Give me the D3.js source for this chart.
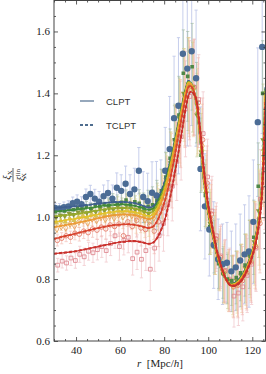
<!DOCTYPE html>
<html><head><meta charset="utf-8">
<script src="https://cdn.jsdelivr.net/npm/d3@7"></script>
<style>body{margin:0;background:#fff}svg{display:block}</style>
</head><body>
<svg id="c" width="266" height="374"></svg>
<script>
// ---------- data ----------
const xTicks = [40, 60, 80, 100, 120];
const yTicks = [0.6, 0.8, 1.0, 1.2, 1.4, 1.6];
const xMinor = [30,35,45,50,55,65,70,75,85,90,95,105,110,115,125];
const yMinor = [0.65,0.7,0.75,0.85,0.9,0.95,1.05,1.1,1.15,1.25,1.3,1.35,1.45,1.5,1.55,1.65];
const legendLabels = ["CLPT", "TCLPT"];

const rBins = [31,33,35,37,39,41,43,45,47,49,51,53,55,57,59,61,63,65,67,69,71,73,75,77,79,81,83,85,87,89,91,93,95,97,99,101,103,105,107,109,111,113,115,117,119,121,123,125];

const blueVals = [1.030,1.028,1.032,1.035,1.045,1.050,1.042,1.065,1.075,1.060,1.050,1.068,1.078,1.060,1.095,1.085,1.108,1.075,1.090,1.150,1.065,1.052,1.079,1.070,1.065,1.150,1.220,1.320,1.360,1.528,1.480,1.536,1.449,1.156,1.035,0.960,0.910,0.864,0.848,0.853,0.825,0.838,0.860,0.880,0.889,0.985,1.307,1.550];
const blueErr = [0.015,0.016,0.017,0.018,0.02,0.022,0.024,0.026,0.028,0.03,0.033,0.036,0.04,0.044,0.048,0.052,0.057,0.062,0.068,0.075,0.082,0.09,0.1,0.11,0.12,0.14,0.17,0.2,0.22,0.24,0.25,0.24,0.22,0.2,0.17,0.15,0.14,0.13,0.13,0.13,0.13,0.14,0.15,0.16,0.18,0.2,0.24,0.28];

const greenVals = [1.018,1.022,1.020,1.028,1.024,1.032,1.030,1.035,1.028,1.040,1.036,1.042,1.038,1.050,1.044,1.048,1.055,1.040,1.050,1.045,1.030,1.035,1.040,1.055,1.085,1.130,1.190,1.250,1.330,1.465,1.455,1.486,1.370,1.200,1.070,0.970,0.905,0.850,0.818,0.800,0.795,0.805,0.820,0.845,0.880,0.935,1.100,1.400];
const greenErr = [0.01,0.01,0.011,0.012,0.013,0.014,0.015,0.016,0.017,0.018,0.02,0.022,0.024,0.026,0.028,0.03,0.033,0.036,0.04,0.044,0.048,0.052,0.058,0.064,0.07,0.08,0.095,0.11,0.125,0.14,0.145,0.14,0.13,0.12,0.1,0.09,0.085,0.08,0.08,0.08,0.08,0.085,0.09,0.1,0.11,0.12,0.14,0.17];

const oliveVals = [1.000,1.006,1.004,1.012,1.008,1.016,1.020,1.014,1.024,1.018,1.028,1.022,1.030,1.026,1.035,1.028,1.038,1.030,1.025,1.030,1.018,1.012,1.025,1.040,1.075,1.120,1.175,1.250,1.320,1.400,1.430,1.420,1.330,1.210,1.075,0.980,0.910,0.855,0.815,0.795,0.785,0.795,0.812,0.835,0.870,0.920,1.020,1.250];
const oliveErr = [0.011,0.011,0.012,0.013,0.014,0.015,0.016,0.018,0.019,0.02,0.022,0.024,0.026,0.028,0.031,0.034,0.037,0.04,0.044,0.048,0.052,0.057,0.063,0.07,0.078,0.088,0.1,0.115,0.13,0.145,0.15,0.145,0.135,0.125,0.11,0.1,0.095,0.09,0.09,0.09,0.09,0.095,0.1,0.11,0.12,0.13,0.15,0.18];

const yellowVals = [0.982,0.988,0.985,0.995,0.990,1.000,1.005,0.998,1.010,1.004,1.014,1.008,1.018,1.012,1.022,1.016,1.025,1.018,1.012,1.020,1.004,0.998,1.012,1.030,1.065,1.110,1.170,1.240,1.310,1.395,1.425,1.415,1.340,1.220,1.085,0.985,0.915,0.860,0.818,0.795,0.780,0.790,0.808,0.830,0.865,0.915,1.000,1.220];
const yellowErr = [0.012,0.012,0.013,0.014,0.015,0.016,0.018,0.019,0.02,0.022,0.024,0.026,0.028,0.03,0.033,0.036,0.04,0.043,0.047,0.05,0.055,0.06,0.066,0.073,0.08,0.09,0.105,0.12,0.135,0.15,0.155,0.15,0.14,0.13,0.115,0.105,0.1,0.095,0.095,0.095,0.095,0.1,0.105,0.115,0.125,0.135,0.155,0.185];

const orangeVals = [0.962,0.970,0.966,0.978,0.972,0.985,0.990,0.982,0.995,0.990,1.000,0.994,1.004,0.998,1.008,1.002,1.012,1.006,0.998,1.004,0.992,0.986,0.998,1.015,1.050,1.100,1.160,1.235,1.305,1.385,1.420,1.415,1.350,1.230,1.095,0.995,0.920,0.862,0.820,0.795,0.778,0.785,0.802,0.825,0.860,0.910,0.990,1.200];
const orangeErr = [0.013,0.013,0.014,0.015,0.016,0.018,0.019,0.02,0.022,0.024,0.026,0.028,0.03,0.033,0.036,0.039,0.042,0.046,0.05,0.054,0.058,0.063,0.07,0.077,0.085,0.095,0.11,0.125,0.14,0.155,0.16,0.155,0.145,0.135,0.12,0.11,0.105,0.1,0.1,0.1,0.1,0.105,0.11,0.12,0.13,0.14,0.16,0.19];

const redVals = [0.925,0.932,0.940,0.935,0.948,0.945,0.955,0.950,0.962,0.958,0.968,0.962,0.975,0.970,0.978,0.940,0.985,0.970,0.990,0.965,0.960,0.975,0.955,0.985,1.030,1.090,1.140,1.230,1.300,1.380,1.410,1.420,1.370,1.250,1.110,1.010,0.930,0.870,0.825,0.795,0.775,0.780,0.795,0.820,0.855,0.905,0.980,1.180];
const redErr = [0.018,0.018,0.019,0.02,0.021,0.022,0.024,0.025,0.027,0.029,0.031,0.033,0.035,0.037,0.04,0.043,0.046,0.05,0.054,0.058,0.062,0.067,0.073,0.08,0.088,0.098,0.11,0.125,0.14,0.155,0.16,0.155,0.145,0.135,0.12,0.11,0.105,0.1,0.1,0.1,0.1,0.105,0.11,0.12,0.13,0.14,0.16,0.19];

const pinkVals = [0.845,0.858,0.852,0.868,0.860,0.880,0.872,0.890,0.885,0.895,0.905,0.892,0.915,0.940,0.905,0.925,0.935,0.866,0.887,0.864,0.892,0.832,0.900,0.940,0.980,1.040,1.100,1.180,1.260,1.350,1.390,1.420,1.380,1.270,1.130,1.020,0.940,0.875,0.828,0.800,0.745,0.755,0.775,0.812,0.848,0.900,1.058,1.150];
const pinkErr = [0.022,0.022,0.023,0.024,0.025,0.026,0.028,0.029,0.031,0.033,0.035,0.037,0.039,0.041,0.044,0.047,0.05,0.053,0.056,0.06,0.064,0.069,0.075,0.082,0.09,0.1,0.112,0.126,0.14,0.155,0.16,0.155,0.145,0.135,0.122,0.112,0.106,0.1,0.1,0.1,0.1,0.105,0.11,0.12,0.13,0.14,0.16,0.19];

// model curves
const rModel = [30,34,38,42,46,50,54,58,62,66,70,73,75,77,80,82,84,86,88,90,91,92,94,96,98,100,102,104,106,108,110,112,114,116,118,120,122,124,125,126];
const blueModel = [1.030,1.032,1.034,1.037,1.040,1.044,1.047,1.049,1.049,1.046,1.038,1.031,1.035,1.055,1.110,1.160,1.220,1.290,1.360,1.420,1.440,1.435,1.390,1.280,1.120,1.010,0.940,0.875,0.830,0.800,0.785,0.788,0.800,0.820,0.850,0.890,0.955,1.070,1.200,1.420];
const greenModel = [1.018,1.020,1.023,1.026,1.030,1.034,1.038,1.040,1.041,1.038,1.030,1.024,1.028,1.048,1.100,1.152,1.214,1.285,1.356,1.418,1.438,1.434,1.390,1.282,1.124,1.014,0.943,0.877,0.831,0.800,0.784,0.786,0.798,0.818,0.848,0.888,0.952,1.066,1.195,1.415];
const oliveModel = [1.002,1.005,1.008,1.012,1.017,1.022,1.026,1.029,1.030,1.028,1.020,1.014,1.019,1.040,1.092,1.145,1.208,1.280,1.352,1.415,1.436,1.433,1.391,1.285,1.128,1.018,0.946,0.879,0.832,0.800,0.783,0.785,0.796,0.816,0.846,0.886,0.949,1.062,1.190,1.410];
const yellowModel = [0.985,0.989,0.993,0.998,1.003,1.009,1.014,1.018,1.019,1.017,1.010,1.004,1.009,1.030,1.083,1.137,1.201,1.274,1.347,1.412,1.434,1.432,1.392,1.288,1.132,1.022,0.949,0.881,0.833,0.800,0.782,0.784,0.794,0.814,0.844,0.884,0.946,1.058,1.185,1.405];
const orangeModel = [0.968,0.973,0.978,0.984,0.990,0.997,1.003,1.007,1.009,1.007,1.000,0.994,0.999,1.020,1.074,1.129,1.194,1.268,1.342,1.408,1.431,1.430,1.393,1.291,1.136,1.026,0.952,0.883,0.834,0.800,0.781,0.782,0.792,0.812,0.842,0.881,0.942,1.053,1.178,1.398];
const redModel = [0.930,0.937,0.944,0.951,0.958,0.965,0.971,0.975,0.977,0.976,0.970,0.965,0.970,0.990,1.045,1.100,1.168,1.245,1.322,1.395,1.420,1.424,1.395,1.300,1.150,1.035,0.960,0.888,0.837,0.801,0.780,0.780,0.789,0.808,0.837,0.876,0.935,1.043,1.165,1.380];
const pinkModel = [0.882,0.885,0.888,0.893,0.899,0.905,0.911,0.917,0.921,0.923,0.919,0.914,0.918,0.935,0.985,1.040,1.110,1.190,1.275,1.360,1.392,1.405,1.392,1.305,1.160,1.042,0.965,0.892,0.840,0.802,0.780,0.778,0.786,0.804,0.833,0.872,0.930,1.035,1.155,1.365];

// ---------- styles ----------
const series = [
  {vals: blueVals,   err: blueErr,   model: blueModel,   mark: "#4b6c95", bar: "#98a6dc", line: "#3f5f8f", sym: d3.symbolCircle,   size: 32, fill: true,  rot: 0,   dx: -0.5},
  {vals: greenVals,  err: greenErr,  model: greenModel,  mark: "#4f8747", bar: "#8cae8c", line: "#3f8a3a", sym: d3.symbolSquare,   size: 13, fill: true,  rot: 0,   dx: -0.3},
  {vals: oliveVals,  err: oliveErr,  model: oliveModel,  mark: "#8c9b3c", bar: "#b8bf84", line: "#98aa2a", sym: d3.symbolTriangle, size: 14, fill: true,  rot: 180, dx: -0.1},
  {vals: yellowVals, err: yellowErr, model: yellowModel, mark: "#d6c159", bar: "#e3d894", line: "#e3c22a", sym: d3.symbolTriangle, size: 14, fill: true,  rot: 0,   dx: 0.1},
  {vals: orangeVals, err: orangeErr, model: orangeModel, mark: "#e8a35c", bar: "#f0c495", line: "#eb9a35", sym: d3.symbolDiamond,  size: 14, fill: false, rot: 0,   dx: 0.3},
  {vals: redVals,    err: redErr,    model: redModel,    mark: "#e47f6c", bar: "#f0aca0", line: "#d8442e", sym: d3.symbolCircle,   size: 16, fill: false, rot: 0,   dx: 0.5},
  {vals: pinkVals,   err: pinkErr,   model: pinkModel,   mark: "#df8a92", bar: "#ebb0b5", line: "#c9302c", sym: d3.symbolSquare,   size: 14, fill: false, rot: 0,   dx: 0.7}
];

const svg = d3.select("#c");
const L = 54, R = 265.5, T = 0.5, B = 341;
const x = d3.scaleLinear().domain([30, 126]).range([L, R]);
const y = d3.scaleLinear().domain([0.6, 1.7]).range([B, T]);

svg.append("defs").append("clipPath").attr("id", "clip")
  .append("rect").attr("x", L).attr("y", T).attr("width", R - L).attr("height", B - T);

const plot = svg.append("g").attr("clip-path", "url(#clip)");

// error bars
series.forEach(s => {
  const g = plot.append("g").attr("stroke", s.bar).attr("stroke-width", 0.9).attr("opacity", 0.6);
  rBins.forEach((r, i) => {
    const xc = x(r + s.dx), y0 = y(s.vals[i] - s.err[i]), y1 = y(s.vals[i] + s.err[i]);
    g.append("line").attr("x1", xc).attr("x2", xc).attr("y1", y0).attr("y2", y1);
    g.append("line").attr("x1", xc - 1.6).attr("x2", xc + 1.6).attr("y1", y0).attr("y2", y0);
    g.append("line").attr("x1", xc - 1.6).attr("x2", xc + 1.6).attr("y1", y1).attr("y2", y1);
  });
});

// markers (blue on top)
series.slice().reverse().forEach(s => {
  const sym = d3.symbol().type(s.sym).size(s.size);
  plot.append("g").selectAll("path").data(rBins).join("path")
    .attr("d", sym)
    .attr("transform", (r, i) => `translate(${x(r + s.dx)},${y(s.vals[i])}) rotate(${s.rot})`)
    .attr("fill", s.fill ? s.mark : "none")
    .attr("stroke", s.fill ? "none" : s.mark)
    .attr("stroke-width", 0.9);
});

// model lines
const line = d3.line().curve(d3.curveCatmullRom.alpha(0.5)).x((d, i) => x(rModel[i])).y(d => y(d));
series.forEach(s => {
  plot.append("path").attr("d", line(s.model)).attr("fill", "none")
    .attr("stroke", s.line).attr("stroke-width", 1.3);
  plot.append("path").attr("d", line(s.model)).attr("fill", "none")
    .attr("stroke", s.line).attr("stroke-width", 2).attr("stroke-dasharray", "3,2");
});

// axes
const axG = svg.append("g");
function styleAxis(g) {
  g.select(".domain").remove();
  g.selectAll("line").attr("stroke", "#333").attr("stroke-width", 0.8);
  g.selectAll("text").attr("fill", "#222").attr("font-size", 11).attr("font-family", "Liberation Serif, serif");
}
axG.append("g").attr("transform", `translate(0,${B})`)
  .call(d3.axisBottom(x).tickValues(xTicks).tickSize(-4).tickPadding(5).tickFormat(d3.format("d"))).call(styleAxis);
axG.append("g").attr("transform", `translate(0,${B})`)
  .call(d3.axisBottom(x).tickValues(xMinor).tickSize(-2).tickFormat("")).call(styleAxis);
axG.append("g").attr("transform", `translate(0,${T})`)
  .call(d3.axisTop(x).tickValues(xTicks).tickSize(-4).tickFormat("")).call(styleAxis);
axG.append("g").attr("transform", `translate(0,${T})`)
  .call(d3.axisTop(x).tickValues(xMinor).tickSize(-2).tickFormat("")).call(styleAxis);
axG.append("g").attr("transform", `translate(${L},0)`)
  .call(d3.axisLeft(y).tickValues(yTicks).tickSize(-4).tickPadding(4).tickFormat(d3.format(".1f"))).call(styleAxis);
axG.append("g").attr("transform", `translate(${L},0)`)
  .call(d3.axisLeft(y).tickValues(yMinor).tickSize(-2).tickFormat("")).call(styleAxis);
axG.append("g").attr("transform", `translate(${R},0)`)
  .call(d3.axisRight(y).tickValues(yTicks).tickSize(-4).tickFormat("")).call(styleAxis);
axG.append("g").attr("transform", `translate(${R},0)`)
  .call(d3.axisRight(y).tickValues(yMinor).tickSize(-2).tickFormat("")).call(styleAxis);

svg.append("rect").attr("x", L).attr("y", T).attr("width", R - L).attr("height", B - T)
  .attr("fill", "none").attr("stroke", "#444").attr("stroke-width", 1);

// x label
const xl = svg.append("text").attr("x", 160).attr("y", 367).attr("text-anchor", "middle")
  .attr("font-family", "Liberation Serif, serif").attr("font-size", 11).attr("fill", "#222");
xl.append("tspan").attr("font-style", "italic").text("r");
xl.append("tspan").text("\u2002[Mpc/");
xl.append("tspan").attr("font-style", "italic").text("h");
xl.append("tspan").text("]");

// y label (fraction)
const yl = svg.append("g").attr("transform", "translate(13,175) rotate(-90)")
  .attr("font-family", "Liberation Serif, serif").attr("fill", "#222");
const num = yl.append("text").attr("x", 0).attr("y", -3).attr("text-anchor", "middle").attr("font-size", 10.5);
num.append("tspan").attr("font-style", "italic").text("\u03BE");
num.append("tspan").attr("font-size", 7).attr("dy", 2).text("X");
yl.append("line").attr("x1", -7).attr("x2", 7).attr("y1", 0).attr("y2", 0).attr("stroke", "#222").attr("stroke-width", 0.7);
const den = yl.append("text").attr("x", 0).attr("y", 11).attr("text-anchor", "middle").attr("font-size", 10.5);
den.append("tspan").attr("font-style", "italic").text("\u03BE");
den.append("tspan").attr("font-size", 7).attr("dy", -4).text("lin");
den.append("tspan").attr("font-size", 7).attr("dx", -9).attr("dy", 6).text("X");

// legend
const leg = svg.append("g").attr("font-family", "Liberation Sans, Arial, sans-serif").attr("font-size", 9.5).attr("fill", "#333");
const legY = [101, 125];
legendLabels.forEach((lab, i) => {
  leg.append("line").attr("x1", 80).attr("x2", 94).attr("y1", legY[i]).attr("y2", legY[i])
    .attr("stroke", "#4f6d8f").attr("stroke-width", i === 0 ? 1.2 : 2.2)
    .attr("stroke-dasharray", i === 0 ? null : "3,2");
  leg.append("text").attr("x", 106).attr("y", legY[i] + 3.5).text(lab);
});
</script>
</body></html>
